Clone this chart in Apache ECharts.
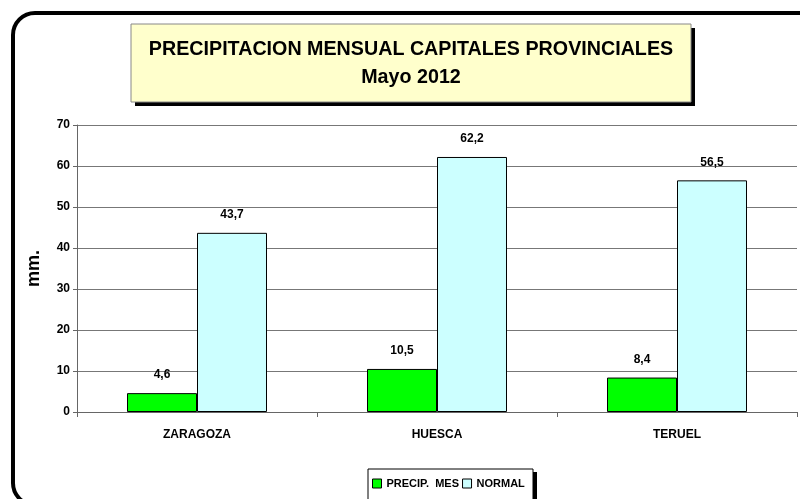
<!DOCTYPE html>
<html>
<head>
<meta charset="utf-8">
<script src="https://cdn.jsdelivr.net/npm/echarts@6/dist/echarts.min.js"></script>
<style>
  html, body { margin: 0; padding: 0; background: #fff; }
  #main { width: 800px; height: 499px; }
</style>
</head>
<body>
<div id="main"></div>
<script>
var categories = ['ZARAGOZA', 'HUESCA', 'TERUEL'];
var precipMes = [4.6, 10.5, 8.4];
var normal = [43.7, 62.2, 56.5];
var seriesNames = ['PRECIP.  MES', 'NORMAL'];
var titleLines = ['PRECIPITACION MENSUAL CAPITALES PROVINCIALES', 'Mayo 2012'];

var FONT = '"Liberation Sans", Arial, sans-serif';

var myChart = echarts.init(document.getElementById('main'));

function fmt(p) {
	return String(p.value).replace('.', ',');
}

var option = {
	animation: false,
	backgroundColor: '#fff',
	textStyle: { fontFamily: FONT },
	grid: { left: 77, right: 3, top: 125, bottom: 87 },
	legend: {
		data: seriesNames,
		z: 30,
		padding: 0,
		left: 372,
		top: 478,
		itemWidth: 9,
		itemHeight: 9,
		itemGap: 3,
		icon: 'rect',
		textStyle: { fontFamily: FONT, fontWeight: 'bold', fontSize: 11, color: '#000' },
		itemStyle: { borderColor: '#000', borderWidth: 1 }
	},
	xAxis: {
		type: 'category',
		data: categories,
		axisLine: { lineStyle: { color: '#666', width: 1 } },
		axisTick: { show: true, length: 5, lineStyle: { color: '#666' } },
		axisLabel: { color: '#000', fontWeight: 'bold', fontSize: 12, margin: 17, fontFamily: FONT }
	},
	yAxis: {
		type: 'value',
		min: 0,
		max: 70,
		interval: 10,
		name: 'mm.',
		nameLocation: 'middle',
		nameGap: 34,
		nameTextStyle: { fontWeight: 'bold', fontSize: 18, color: '#000', fontFamily: FONT },
		axisLine: { show: true, lineStyle: { color: '#666' } },
		axisTick: { show: true, length: 4, lineStyle: { color: '#666' } },
		axisLabel: { color: '#000', fontWeight: 'bold', fontSize: 12, margin: 7, fontFamily: FONT },
		splitLine: { lineStyle: { color: '#777', width: 1 } }
	},
	series: [{
		name: seriesNames[0],
		type: 'bar',
		data: precipMes,
		barWidth: 70,
		barGap: '0%',
		itemStyle: { color: '#00FF00', borderColor: '#000', borderWidth: 1 },
		label: { show: true, position: 'top', distance: 12, formatter: fmt,
			color: '#000', fontWeight: 'bold', fontSize: 12, fontFamily: FONT }
	}, {
		name: seriesNames[1],
		type: 'bar',
		data: normal,
		barWidth: 70,
		barGap: '0%',
		itemStyle: { color: '#CCFFFF', borderColor: '#000', borderWidth: 1 },
		label: { show: true, position: 'top', distance: 12, formatter: fmt,
			color: '#000', fontWeight: 'bold', fontSize: 12, fontFamily: FONT }
	}],
	graphic: [
		// outer rounded frame
		{ type: 'rect', z: 0, silent: true,
		  shape: { x: 13, y: 13, width: 820, height: 492, r: 22 },
		  style: { fill: null, stroke: '#000', lineWidth: 4 } },
		// title box shadow + box
		{ type: 'rect', z: 10, silent: true,
		  shape: { x: 135, y: 28, width: 560, height: 78 },
		  style: { fill: '#000' } },
		{ type: 'rect', z: 11, silent: true,
		  shape: { x: 131, y: 24, width: 560, height: 78 },
		  style: { fill: '#FFFFCC', stroke: '#888', lineWidth: 1 } },
		{ type: 'text', z: 12, silent: true,
		  style: { text: titleLines[0], x: 411, y: 50, align: 'center', verticalAlign: 'middle',
		           font: 'bold 19.7px ' + FONT, fill: '#000' } },
		{ type: 'text', z: 12, silent: true,
		  style: { text: titleLines[1], x: 411, y: 78, align: 'center', verticalAlign: 'middle',
		           font: 'bold 19.7px ' + FONT, fill: '#000' } },
		// legend box shadow + box
		{ type: 'rect', z: 10, silent: true,
		  shape: { x: 371, y: 472, width: 166, height: 40 },
		  style: { fill: '#000' } },
		{ type: 'rect', z: 11, silent: true,
		  shape: { x: 368, y: 469, width: 165, height: 40 },
		  style: { fill: '#fff', stroke: '#000', lineWidth: 1 } }
	]
};

myChart.setOption(option);
</script>
</body>
</html>
